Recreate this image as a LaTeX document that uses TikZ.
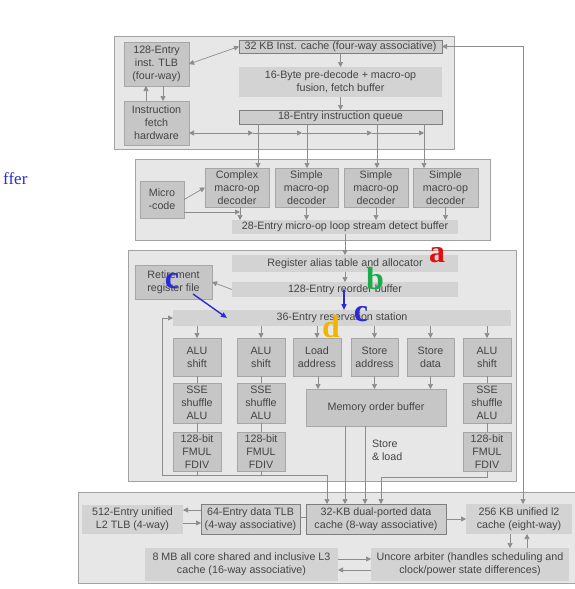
\documentclass[tikz,border=0pt]{standalone}
\usepackage{fontspec}
\setmainfont{Liberation Sans}
\newfontfamily\serifb{Liberation Serif}
\usetikzlibrary{arrows.meta}
\definecolor{panelfill}{HTML}{E7E7E7}
\definecolor{panelline}{HTML}{A2A2A2}
\definecolor{dfill}{HTML}{C6C6C6}
\definecolor{dline}{HTML}{A6A6A6}
\definecolor{lfill}{HTML}{D3D3D3}
\definecolor{bfill}{HTML}{CDCDCD}
\definecolor{bline}{HTML}{7E7E7E}
\definecolor{arrc}{HTML}{8C8C8C}
\definecolor{txt}{HTML}{444444}
\definecolor{lblred}{HTML}{E01010}
\definecolor{lblgreen}{HTML}{1DAA4A}
\definecolor{lblblue}{HTML}{2B2BD6}
\definecolor{lblgold}{HTML}{F2B400}
\newcommand\bx[7]{%
  \pgfmathsetmacro\bxcx{(#2+#4)/2}\pgfmathsetmacro\bxcy{(#3+#5)/2}%
  \pgfmathsetmacro\bxw{#4-#2}\pgfmathsetmacro\bxh{#5-#3}%
  \node[#6, minimum width=\bxw pt, minimum height=\bxh pt] (#1) at (\bxcx,\bxcy) {#7};}
\begin{document}
\begin{tikzpicture}[x=1pt,y=-1pt,
  base/.style={inner sep=0pt, outer sep=0pt, align=center, text=txt,
    font=\fontsize{10.7}{13}\selectfont},
  panel/.style={draw=panelline, fill=panelfill, line width=0.8pt},
  dbox/.style={base, draw=dline, fill=dfill, line width=0.6pt},
  lbox/.style={base, fill=lfill},
  bbox/.style={base, draw=bline, fill=bfill, line width=0.8pt},
  arr/.style={draw=arrc, line width=0.7pt, -{Triangle[length=5pt,width=5pt]}},
  arrb/.style={draw=arrc, line width=0.7pt, {Triangle[length=5pt,width=5pt]}-{Triangle[length=5pt,width=5pt]}},
  ln/.style={draw=arrc, line width=0.7pt},
  barr/.style={draw=lblblue, line width=1.4pt, -{Triangle[length=6pt,width=5pt]}},
  lett/.style={inner sep=0pt, font=\serifb\bfseries\fontsize{32}{32}\selectfont}]
\useasboundingbox (0,0) rectangle (574,589);
\fill[white] (0,0) rectangle (574,589);
% panels
\draw[panel] (114,36) rectangle (454,149);
\draw[panel] (135,159) rectangle (490,240);
\draw[panel] (128,250) rectangle (516,481);
\draw[panel] (78,492) rectangle (576,583);
% helper coordinates
\foreach \n/\x in {146/146,163/163,258/258,307/307,377/377,424/424,253/253,302/302,372/372,240/240,162/162,327/327,345/345,365/365,381/381,510/510,527/527,523/523,318/318,195/195}{\coordinate (x\n) at (\x,0);}
\foreach \n/\y in {133/133,212/212,475/475,477/477,510/510,523/523,517/517,519/519,559/559,570/570,47/47,318/318}{\coordinate (y\n) at (0,\y);}
% front end
\bx{itlb}{124}{42}{189}{86}{dbox}{128-Entry\\inst. TLB\\(four-way)}
\bx{ifetch}{124}{101}{189}{145}{dbox}{Instruction\\fetch\\hardware}
\bx{icache}{239}{40}{442}{53}{bbox}{32 KB Inst. cache (four-way associative)}
\bx{pred}{239}{67}{442}{97}{lbox}{16-Byte pre-decode + macro-op\\fusion, fetch buffer}
\bx{iq}{239}{110}{442}{124}{bbox}{18-Entry instruction queue}
% decoders
\bx{cdec}{205}{168}{269}{207}{dbox}{Complex\\macro-op\\decoder}
\bx{sdec1}{275}{168}{338}{207}{dbox}{Simple\\macro-op\\decoder}
\bx{sdec2}{344}{168}{408}{207}{dbox}{Simple\\macro-op\\decoder}
\bx{sdec3}{413}{168}{478}{207}{dbox}{Simple\\macro-op\\decoder}
\bx{mcode}{140}{181}{184}{218}{dbox}{Micro\\-code}
\bx{lsd}{232}{220}{458}{234}{lbox}{28-Entry micro-op loop stream detect buffer}
% back end
\bx{rat}{232}{255}{458}{272}{lbox}{Register alias table and allocator}
\bx{rob}{232}{282}{458}{297}{lbox}{128-Entry reorder buffer}
\bx{rrf}{135}{265}{212}{299}{dbox}{Retirement\\register file}
\bx{rs}{173}{310}{511}{326}{lbox}{36-Entry reservation station}
\bx{alua}{173}{338}{221}{376}{dbox}{ALU\\shift}
\bx{ssea}{173}{383}{221}{423}{dbox}{SSE\\shuffle\\ALU}
\bx{fpa}{173}{432}{221}{471}{dbox}{128-bit\\FMUL\\FDIV}
\bx{alub}{237}{338}{285}{376}{dbox}{ALU\\shift}
\bx{sseb}{237}{383}{285}{423}{dbox}{SSE\\shuffle\\ALU}
\bx{fpb}{237}{432}{285}{471}{dbox}{128-bit\\FMUL\\FDIV}
\bx{ld}{293}{338}{341}{376}{dbox}{Load\\address}
\bx{sta}{351}{338}{398}{376}{dbox}{Store\\address}
\bx{std}{407}{338}{454}{376}{dbox}{Store\\data}
\bx{aluc}{463}{338}{511}{376}{dbox}{ALU\\shift}
\bx{ssec}{463}{383}{511}{423}{dbox}{SSE\\shuffle\\ALU}
\bx{fpc}{463}{432}{511}{471}{dbox}{128-bit\\FMUL\\FDIV}
\bx{mob}{306}{389}{446}{426}{dbox}{Memory order buffer}
\node[base, align=left, anchor=north west] (stl) at (372,440) {Store\\\& load};
% memory
\bx{l2tlb}{82}{505}{183}{534}{lbox}{512-Entry unified\\L2 TLB (4-way)}
\bx{dtlb}{201}{504}{300}{534}{bbox}{64-Entry data TLB\\(4-way associative)}
\bx{dcache}{306}{504}{446}{534}{bbox}{32-KB dual-ported data\\cache (8-way associative)}
\bx{ltwo}{466}{504}{572}{534}{lbox}{256 KB unified l2\\cache (eight-way)}
\bx{lthree}{145}{548}{338}{581}{lbox}{8 MB all core shared and inclusive L3\\cache (16-way associative)}
\bx{unc}{371}{548}{569}{581}{lbox}{Uncore arbiter (handles scheduling and\\clock/power state differences)}
% front-end connectors
\draw[arrb] (itlb.east) -- (icache.west);
\draw[arr] (ifetch.north -| x146) -- (itlb.south -| x146);
\draw[arr] (itlb.south -| x163) -- (ifetch.north -| x163);
\draw[arr] (icache.south) -- (pred.north);
\draw[arr] (pred.south) -- (iq.north);
\draw[arrb] (ifetch.east |- y133) -- (x253 |- y133);
\draw[arr] (x253 |- y133) -- (x302 |- y133);
\draw[arr] (x302 |- y133) -- (x372 |- y133);
\draw[arr] (x372 |- y133) -- (x424 |- y133);
\draw[arr] (iq.south -| x258) -- (cdec.north -| x258);
\draw[arr] (iq.south -| x307) -- (sdec1.north -| x307);
\draw[arr] (iq.south -| x377) -- (sdec2.north -| x377);
\draw[arr] (iq.south -| x424) -- (sdec3.north -| x424);
% decoder connectors
\draw[arr] (mcode.east) -- (cdec.west);
\draw[arr] (mcode.east |- y212) -- (x240 |- y212);
\draw[arr] (cdec.south -| x240) -- (lsd.north -| x240);
\draw[arr] (sdec1.south) -- (lsd.north -| sdec1.south);
\draw[arr] (sdec2.south) -- (lsd.north -| sdec2.south);
\draw[arr] (sdec3.south) -- (lsd.north -| sdec3.south);
\draw[arr] (lsd.south) -- (rat.north);
% back-end connectors
\draw[arr] (rat.south) -- (rob.north);
\draw[arr] (rob.west) -- (rrf.east);
\foreach \u in {alua,alub,ld,sta,std,aluc}{\draw[arr] (rs.south -| \u.north) -- (\u.north);}
\foreach \a/\b in {alua/ssea,ssea/fpa,alub/sseb,sseb/fpb,aluc/ssec,ssec/fpc}{\draw[ln] (\a.south) -- (\b.north);}
\draw[arr] (ld.south -| x318) -- (mob.north -| x318);
\draw[arr] (sta.south) -- (mob.north -| sta.south);
\draw[arr] (std.south) -- (mob.north -| std.south);
\draw[ln] (fpa.south) -- (fpa.south |- y475);
\draw[ln] (fpb.south) -- (fpb.south |- y475);
\draw[arr] (x327 |- y475) -- (x162 |- y475) -- (x162 |- y318) -- (rs.west);
\draw[arr] (x162 |- y475) -- (x327 |- y475) -- (dcache.north -| x327);
\draw[arr] (fpc.south) -- (fpc.south |- y477) -- (x381 |- y477) -- (dcache.north -| x381);
\draw[arr] (mob.south -| x345) -- (dcache.north -| x345);
\draw[arr] (mob.south -| x365) -- (dcache.north -| x365);
% memory connectors
\draw[arrb] (icache.east) -- (x523 |- icache.east) -- (ltwo.north -| x523);
\draw[arr] (dtlb.west |- y510) -- (l2tlb.east |- y510);
\draw[arr] (l2tlb.east |- y523) -- (dtlb.west |- y523);
\draw[ln] (dtlb.east |- y517) -- (dcache.west |- y517);
\draw[arr] (dcache.east |- y519) -- (ltwo.west |- y519);
\draw[arr] (ltwo.south -| x510) -- (unc.north -| x510);
\draw[arr] (unc.north -| x527) -- (ltwo.south -| x527);
\draw[arr] (lthree.east |- y559) -- (unc.west |- y559);
\draw[arr] (unc.west |- y570) -- (lthree.east |- y570);
% annotations
\coordinate (bA) at (193,294);
\coordinate (bB) at (227,318);
\coordinate (bC) at (344,290);
\coordinate (bD) at (344,310);
\draw[barr] (bA) -- (bB);
\draw[barr] (bC) -- (bD);
\node[lett, text=lblred] (la) at (437,255) {a};
\node[lett, text=lblgreen] (lb) at (375,279) {b};
\node[lett, text=lblblue] (lc1) at (172,281) {c};
\node[lett, text=lblblue] (lc2) at (361,314) {c};
\node[lett, text=lblgold] (ld1) at (331,327) {d};
\node[inner sep=0pt, anchor=base west, text=lblblue, font=\serifb\fontsize{17}{17}\selectfont] (ffer) at (3,184) {ffer};
\end{tikzpicture}
\end{document}
